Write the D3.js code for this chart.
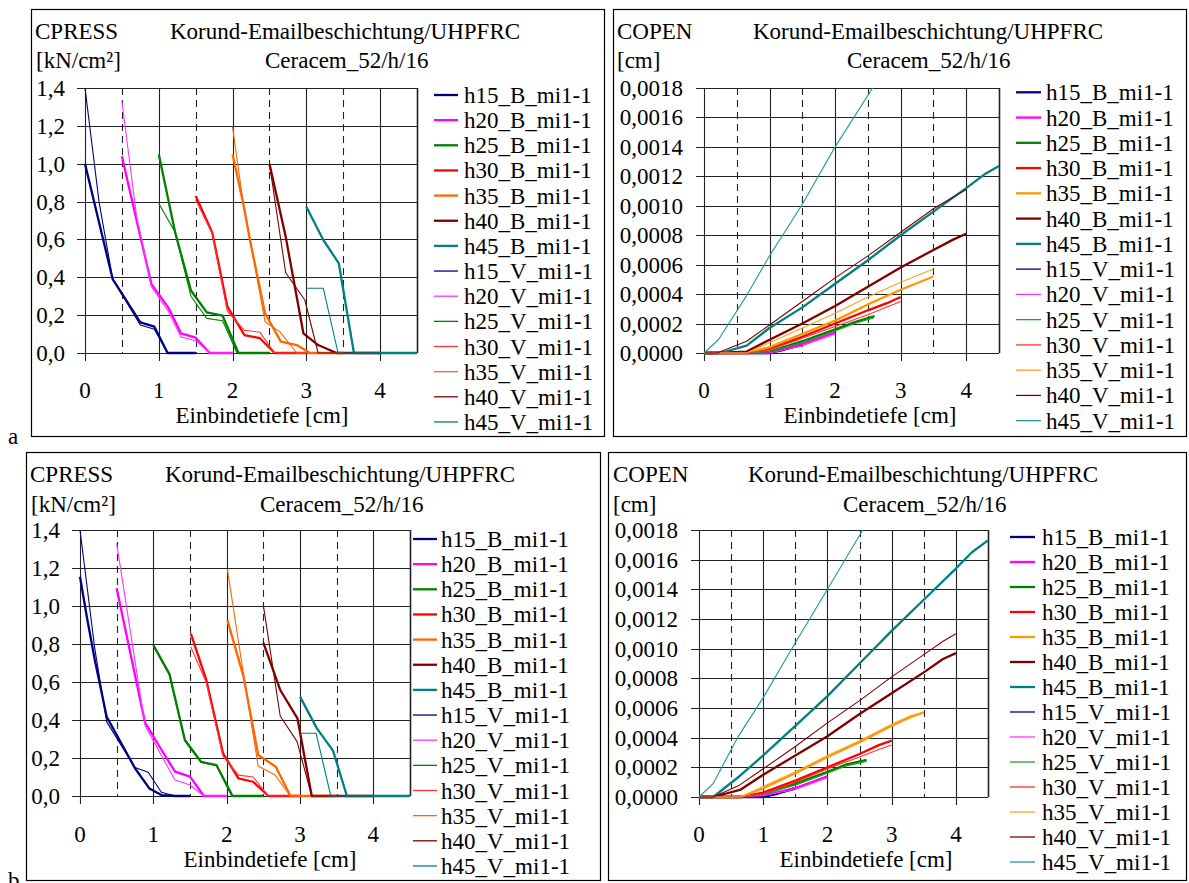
<!DOCTYPE html>
<html><head><meta charset="utf-8">
<script src="https://cdn.jsdelivr.net/npm/d3@7/dist/d3.min.js"></script>
<style>
html,body{margin:0;padding:0;background:#fff;}
svg text{font-family:"Liberation Serif","Times New Roman",serif;fill:#000;}
</style></head>
<body><svg id="c" width="1189" height="883"></svg>
<script>
// ---------------- DATA ----------------
const seriesNames = ["h15_B_mi1-1","h20_B_mi1-1","h25_B_mi1-1","h30_B_mi1-1","h35_B_mi1-1","h40_B_mi1-1","h45_B_mi1-1",
                     "h15_V_mi1-1","h20_V_mi1-1","h25_V_mi1-1","h30_V_mi1-1","h35_V_mi1-1","h40_V_mi1-1","h45_V_mi1-1"];
const xTicks = [0,1,2,3,4];
const pressTickValues = [0,0.2,0.4,0.6,0.8,1.0,1.2,1.4];
const pressTickLabels = ["0,0","0,2","0,4","0,6","0,8","1,0","1,2","1,4"];
const openTickValues = [0,0.0002,0.0004,0.0006,0.0008,0.001,0.0012,0.0014,0.0016,0.0018];
const openTickLabels = ["0,0000","0,0002","0,0004","0,0006","0,0008","0,0010","0,0012","0,0014","0,0016","0,0018"];

// Panel a, CPRESS [kN/cm²] vs Einbindetiefe [cm]
const pressA_B = [
  [[0,1.0],[0.375,0.39],[0.75,0.162],[0.94,0.139],[1.12,0],[1.5,0]],
  [[0.5,1.04],[0.7,0.7],[0.9,0.364],[1.13,0.24],[1.3,0.104],[1.5,0.081],[1.69,0],[2.0,0]],
  [[1.0,1.05],[1.22,0.64],[1.436,0.33],[1.65,0.215],[1.865,0.197],[2.08,0],[2.5,0]],
  [[1.5,0.83],[1.725,0.636],[1.93,0.245],[2.16,0.095],[2.37,0.078],[2.57,0],[3.0,0]],
  [[2.0,1.05],[2.145,0.79],[2.236,0.597],[2.44,0.21],[2.655,0.06],[2.87,0.042],[3.05,0],[3.5,0]],
  [[2.5,1.0],[2.72,0.615],[2.96,0.104],[3.16,0.042],[3.41,0],[4.0,0]],
  [[3.0,0.773],[3.23,0.597],[3.44,0.474],[3.645,0],[4.5,0]]
];
const pressA_V = [
  [[0,1.4],[0.19,0.8],[0.375,0.39],[0.75,0.148],[0.94,0.125],[1.12,0],[1.5,0]],
  [[0.5,1.33],[0.7,0.72],[0.9,0.35],[1.13,0.22],[1.3,0.085],[1.5,0.065],[1.69,0],[2.0,0]],
  [[1.0,0.79],[1.22,0.64],[1.436,0.30],[1.65,0.183],[1.865,0.17],[2.06,0],[2.5,0]],
  [[1.5,0.81],[1.725,0.63],[1.93,0.22],[2.16,0.12],[2.37,0.11],[2.57,0],[3.0,0]],
  [[2.0,1.195],[2.145,0.79],[2.236,0.6],[2.44,0.165],[2.64,0.113],[2.87,0],[3.5,0]],
  [[2.5,1.0],[2.72,0.424],[2.98,0.28],[3.16,0],[4.0,0]],
  [[3.0,0.342],[3.23,0.342],[3.43,0],[4.5,0]]
];
// Panel a, COPEN [cm]
const openA_B = [
  [[0,0],[0.65,0],[1,0],[1.2,0.00002],[1.5,0.00006]],
  [[0,0],[0.65,0],[1,0],[1.5,0.00006],[2,0.00014]],
  [[0,0],[0.65,0],[1,0.00001],[1.5,0.00008],[2,0.00016],[2.3,0.00021],[2.6,0.00025]],
  [[0,0],[0.65,0],[1,0.00003],[1.5,0.00011],[2,0.0002],[2.5,0.00029],[2.8,0.00034],[3,0.00038]],
  [[0,0],[0.65,0],[1,0.00004],[1.5,0.00013],[2,0.00022],[2.5,0.00033],[3,0.00043],[3.5,0.00052]],
  [[0,0],[0.2,0],[0.65,0.00001],[1,0.00009],[1.5,0.0002],[2,0.00032],[2.5,0.00045],[3,0.00058],[3.5,0.0007],[3.8,0.00077],[4,0.00081]],
  [[0,0],[0.25,0],[0.65,0.00005],[1,0.00017],[1.5,0.00031],[2,0.00047],[2.5,0.00063],[3,0.0008],[3.5,0.00096],[4,0.00112],[4.3,0.00122],[4.5,0.00127]]
];
const openA_V = [
  [[0,0],[0.65,0],[1,0],[1.2,0.00002],[1.5,0.00005]],
  [[0,0],[0.65,0],[1,0],[1.5,0.00005],[2,0.00013]],
  [[0,0],[0.65,0],[1,0.00001],[1.5,0.00007],[2,0.00015],[2.3,0.0002],[2.6,0.00024]],
  [[0,0],[0.65,0],[1,0.00002],[1.5,0.0001],[2,0.00018],[2.5,0.00026],[3,0.00035]],
  [[0,0],[0.65,0],[1,0.00007],[1.5,0.00017],[2,0.00027],[2.5,0.00038],[3,0.00048],[3.5,0.00057]],
  [[0,0],[0.2,0],[0.65,0.00008],[1,0.00019],[1.5,0.00035],[2,0.00051],[2.5,0.00066],[3,0.00082],[3.5,0.00098],[3.8,0.00106],[4,0.00111]],
  [[0,0],[0.22,0.00009],[0.65,0.00039],[1,0.00066],[1.5,0.00101],[2,0.0014],[2.6,0.00182],[3,0.0021]]
];
// Panel b, CPRESS [kN/cm²]
const pressB_B = [
  [[0,1.154],[0.09,0.95],[0.2,0.72],[0.364,0.417],[0.75,0.146],[0.945,0.04],[1.11,0.005],[1.3,0],[1.5,0]],
  [[0.5,1.093],[0.887,0.386],[1.1,0.25],[1.296,0.128],[1.5,0.102],[1.69,0],[2.0,0]],
  [[1.0,0.795],[1.22,0.642],[1.43,0.295],[1.65,0.18],[1.86,0.163],[2.08,0],[2.5,0]],
  [[1.51,0.856],[1.72,0.614],[1.95,0.225],[2.16,0.093],[2.36,0.075],[2.57,0],[3.0,0]],
  [[2.01,0.926],[2.23,0.628],[2.43,0.216],[2.67,0.154],[2.87,0],[3.5,0]],
  [[2.5,0.807],[2.73,0.558],[2.965,0.409],[3.16,0],[4.0,0]],
  [[3.0,0.523],[3.23,0.356],[3.45,0.239],[3.64,0],[4.5,0]]
];
const pressB_V = [
  [[0,1.4],[0.2,0.78],[0.364,0.39],[0.75,0.15],[0.93,0.125],[1.11,0.02],[1.3,0],[1.5,0]],
  [[0.5,1.33],[0.887,0.37],[1.1,0.22],[1.296,0.084],[1.5,0.058],[1.69,0],[2.0,0]],
  [[1.0,0.79],[1.22,0.635],[1.43,0.29],[1.65,0.178],[1.86,0.16],[2.07,0],[2.5,0]],
  [[1.51,0.786],[1.72,0.6],[1.95,0.21],[2.16,0.11],[2.36,0.1],[2.57,0],[3.0,0]],
  [[2.01,1.193],[2.23,0.64],[2.43,0.158],[2.66,0.11],[2.87,0],[3.5,0]],
  [[2.5,1.005],[2.73,0.421],[2.96,0.286],[3.16,0],[4.0,0]],
  [[3.0,0.33],[3.22,0.33],[3.42,0],[4.5,0]]
];
// Panel b, COPEN [cm]
const openB_B = [
  [[0,0],[0.65,0],[1,0],[1.2,0.00002],[1.49,0.00006]],
  [[0,0],[0.65,0],[1,0.00001],[1.5,0.00006],[2,0.00014]],
  [[0,0],[0.65,0],[1,0.00002],[1.5,0.00009],[2,0.00017],[2.3,0.00022],[2.61,0.00025]],
  [[0,0],[0.65,0],[1,0.00003],[1.5,0.00011],[2,0.0002],[2.5,0.00029],[2.8,0.00035],[3,0.00038]],
  [[0,0],[0.65,0],[1,0.00006],[1.5,0.00016],[2,0.00027],[2.5,0.00037],[3,0.00048],[3.3,0.00054],[3.5,0.00057]],
  [[0,0],[0.22,0],[0.65,0.00005],[1,0.00015],[1.5,0.00028],[2,0.00041],[2.5,0.00056],[3,0.0007],[3.5,0.00084],[3.8,0.00093],[4,0.00097]],
  [[0,0],[0.22,0],[0.63,0.00014],[1,0.00028],[1.5,0.00048],[2,0.00068],[2.5,0.0009],[3,0.00112],[3.5,0.00133],[4,0.00154],[4.25,0.00165],[4.5,0.00173]]
];
const openB_V = [
  [[0,0],[0.65,0],[1,0],[1.2,0.00002],[1.49,0.00005]],
  [[0,0],[0.65,0],[1,0.00001],[1.5,0.00005],[2,0.00013]],
  [[0,0],[0.65,0],[1,0.00002],[1.5,0.00008],[2,0.00016],[2.3,0.00021],[2.61,0.00024]],
  [[0,0],[0.65,0],[1,0.00002],[1.5,0.0001],[2,0.00019],[2.5,0.00027],[2.8,0.00032],[3,0.00035]],
  [[0,0],[0.65,0],[1,0.00007],[1.5,0.00017],[2,0.00028],[2.5,0.00038],[3,0.00049],[3.3,0.00055],[3.5,0.00057]],
  [[0,0],[0.22,0],[0.63,0.00008],[1,0.00019],[1.5,0.00034],[2,0.0005],[2.5,0.00065],[3,0.00081],[3.5,0.00096],[3.8,0.00105],[4,0.0011]],
  [[0,0],[0.22,0.00009],[0.6,0.0004],[1,0.00067],[1.5,0.00104],[2,0.0014],[2.55,0.0018],[3,0.0021]]
];

// ---------------- STYLE / LAYOUT ----------------
const colPressB = ["#000080","#FF00FF","#008000","#FF0000","#FF6600","#800000","#008080"];
const colPressV = ["#000080","#FF33FF","#008000","#FF3333","#FF6600","#800000","#008080"];
const colOpenB  = ["#000080","#FF00FF","#008000","#FF0000","#FF9900","#800000","#008080"];
const colOpenV  = ["#000080","#FF33FF","#22A022","#FF3333","#FFA020","#800000","#229999"];

const panels = [
  {frame:[31,9,604,436], plot:{l:85,r:417,t:88,b:353}, yMax:1.4, tv:pressTickValues, tl:pressTickLabels,
   ylab:65, t1:["CPRESS",35,39], t2:["Korund-Emailbeschichtung/UHPFRC",170,39], t3:["[kN/cm²]",36,68], t4:["Ceracem_52/h/16",265,68],
   xtb:398, xt:[262,423], leg:{x1:434,x2:458,tx:464,y0:95,dy:25.15}, B:pressA_B, V:pressA_V, cB:colPressB, cV:colPressV},
  {frame:[613,9,1186,436], plot:{l:704,r:999,t:88,b:353}, yMax:0.0018, tv:openTickValues, tl:openTickLabels,
   ylab:683, t1:["COPEN",617,39], t2:["Korund-Emailbeschichtung/UHPFRC",753,39], t3:["[cm]",617,68], t4:["Ceracem_52/h/16",847,68],
   xtb:398, xt:[870,423], leg:{x1:1016,x2:1041,tx:1046,y0:92.3,dy:25.26}, B:openA_B, V:openA_V, cB:colOpenB, cV:colOpenV},
  {frame:[26,452,600,880], plot:{l:80,r:410,t:530,b:796}, yMax:1.4, tv:pressTickValues, tl:pressTickLabels,
   ylab:60, t1:["CPRESS",30,482], t2:["Korund-Emailbeschichtung/UHPFRC",165,482], t3:["[kN/cm²]",31,512], t4:["Ceracem_52/h/16",260,512],
   xtb:842, xt:[270,867], leg:{x1:413,x2:437,tx:441,y0:539,dy:25.15}, B:pressB_B, V:pressB_V, cB:colPressB, cV:colPressV},
  {frame:[608,452,1186,880], plot:{l:699,r:988,t:530,b:797}, yMax:0.0018, tv:openTickValues, tl:openTickLabels,
   ylab:678, t1:["COPEN",613,482], t2:["Korund-Emailbeschichtung/UHPFRC",748,482], t3:["[cm]",613,512], t4:["Ceracem_52/h/16",843,512],
   xtb:842, xt:[866,867], leg:{x1:1010,x2:1035,tx:1042,y0:537,dy:25}, B:openB_B, V:openB_V, cB:colOpenB, cV:colOpenV}
];

const FS = 23;
const svg = d3.select("#c");
panels.forEach((p,pi)=>{
  const g = svg.append("g");
  const [fx0,fy0,fx1,fy1] = p.frame;
  g.append("rect").attr("x",fx0+0.5).attr("y",fy0+0.5).attr("width",fx1-fx0).attr("height",fy1-fy0)
    .attr("fill","none").attr("stroke","#000").attr("stroke-width",1.2);
  const x = d3.scaleLinear().domain([0,4.5]).range([p.plot.l,p.plot.r]);
  const y = d3.scaleLinear().domain([0,p.yMax]).range([p.plot.b,p.plot.t]);
  // grid
  const grid = g.append("g");
  p.tv.forEach(v=>{
    grid.append("line").attr("x1",p.plot.l-8).attr("x2",p.plot.r).attr("y1",Math.round(y(v))+0.5).attr("y2",Math.round(y(v))+0.5)
      .attr("stroke","#222").attr("stroke-width",1.1);
  });
  [0,1,2,3,4,4.5].forEach(v=>{
    grid.append("line").attr("x1",Math.round(x(v))+0.5).attr("x2",Math.round(x(v))+0.5).attr("y1",p.plot.t).attr("y2",p.plot.b+(v<=4?8:0))
      .attr("stroke","#222").attr("stroke-width",v===4.5?1.6:1.1);
  });
  [0.5,1.5,2.5,3.5].forEach(v=>{
    grid.append("line").attr("x1",Math.round(x(v))+0.5).attr("x2",Math.round(x(v))+0.5).attr("y1",p.plot.t).attr("y2",p.plot.b)
      .attr("stroke","#222").attr("stroke-width",1.1).attr("stroke-dasharray","7,5");
  });
  // tick labels
  p.tv.forEach((v,i)=>{
    g.append("text").attr("x",p.ylab).attr("y",y(v)+8).attr("text-anchor","end").attr("font-size",FS).text(p.tl[i]);
  });
  xTicks.forEach(v=>{
    g.append("text").attr("x",x(v)).attr("y",p.xtb).attr("text-anchor","middle").attr("font-size",FS).text(v);
  });
  g.append("text").attr("x",p.xt[0]).attr("y",p.xt[1]).attr("text-anchor","middle").attr("font-size",FS).text("Einbindetiefe [cm]");
  [p.t1,p.t2,p.t3,p.t4].forEach(t=>{
    g.append("text").attr("x",t[1]).attr("y",t[2]).attr("font-size",FS).text(t[0]);
  });
  // lines
  const cid = "clip"+pi;
  svg.append("clipPath").attr("id",cid).append("rect").attr("x",p.plot.l-2).attr("y",p.plot.t).attr("width",p.plot.r-p.plot.l+4).attr("height",p.plot.b-p.plot.t+3);
  const lg = g.append("g").attr("clip-path","url(#"+cid+")");
  const line = d3.line().x(d=>x(d[0])).y(d=>y(d[1]));
  p.B.forEach((s,i)=>{
    lg.append("path").attr("d",line(s)).attr("fill","none").attr("stroke",p.cB[i]).attr("stroke-width",2.3).attr("stroke-linejoin","round");
  });
  p.V.forEach((s,i)=>{
    lg.append("path").attr("d",line(s)).attr("fill","none").attr("stroke",p.cV[i]).attr("stroke-width",1.1).attr("stroke-linejoin","round");
  });
  // legend
  seriesNames.forEach((n,i)=>{
    const yy = p.leg.y0 + i*p.leg.dy;
    const isB = i<7;
    g.append("line").attr("x1",p.leg.x1).attr("x2",p.leg.x2).attr("y1",yy).attr("y2",yy)
      .attr("stroke",isB?p.cB[i]:p.cV[i-7]).attr("stroke-width",isB?2.3:1.3);
    g.append("text").attr("x",p.leg.tx).attr("y",yy+8).attr("font-size",FS).text(n);
  });
});
svg.append("text").attr("x",8).attr("y",444).attr("font-size",FS).text("a");
svg.append("text").attr("x",8).attr("y",888).attr("font-size",FS).text("b");
</script>
</body></html>
